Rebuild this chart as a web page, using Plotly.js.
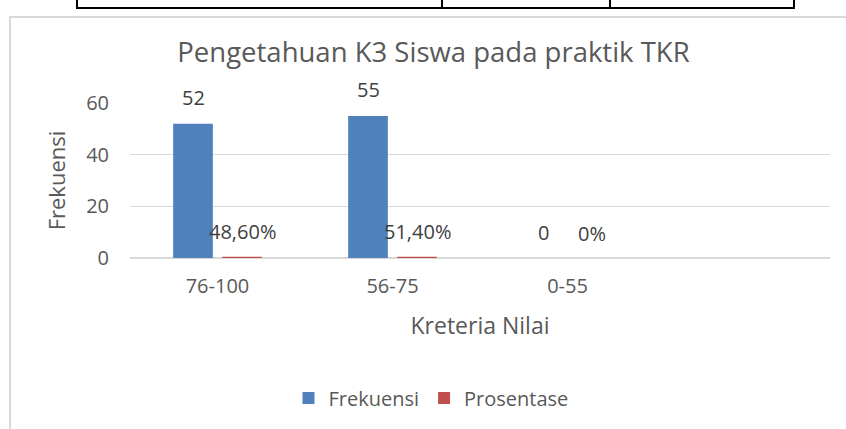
<!DOCTYPE html>
<html>
<head>
<meta charset="utf-8">
<script src="https://cdn.plot.ly/plotly-3.0.1.min.js"></script>
<style>
  html, body { margin: 0; padding: 0; background: #ffffff; }
  #wrap { position: relative; width: 846px; height: 429px; overflow: hidden; }
  #chart { position: absolute; left: 0; top: 0; width: 846px; height: 429px; }
  .ln { position: absolute; pointer-events: none; }
</style>
</head>
<body>
<div id="wrap">
  <div id="chart"></div>
  <!-- table border remnants at top of page -->
  <div class="ln" style="left:76px; top:7px; width:719px; height:2px; background:#000;"></div>
  <div class="ln" style="left:76px; top:0px; width:2px; height:9px; background:#000;"></div>
  <div class="ln" style="left:441px; top:0px; width:2px; height:9px; background:#000;"></div>
  <div class="ln" style="left:609px; top:0px; width:2px; height:9px; background:#000;"></div>
  <div class="ln" style="left:793px; top:0px; width:2px; height:9px; background:#000;"></div>
  <!-- chart frame -->
  <div class="ln" style="left:9px; top:16px; width:837px; height:2px; background:#d9d9d9;"></div>
  <div class="ln" style="left:9px; top:16px; width:2px; height:413px; background:#d9d9d9;"></div>
</div>
<script>
// ---- data ----
const categories = ["76-100", "56-75", "0-55"];
const frekuensi = [52, 55, 0];
const prosentase = [0.486, 0.514, 0];          // fraction values
const frekuensiLabels = ["52", "55", "0"];
const prosentaseLabels = ["48,60%", "51,40%", "0%"];
const yTicks = [0, 20, 40, 60];

const titleText = "Pengetahuan K3 Siswa pada praktik TKR";
const xTitle = "Kreteria Nilai";
const yTitle = "Frekuensi";

const FONT = "Open Sans, Noto Sans, sans-serif";
const TXT = "#595959";
const BLUE = "#4f81bd";
const RED = "#c0504d";

const traces = [
  {
    type: "bar", name: "Frekuensi", x: categories, y: frekuensi,
    marker: { color: BLUE, line: { width: 0 } },
    hoverinfo: "none"
  },
  {
    type: "bar", name: "Prosentase", x: categories, y: prosentase,
    marker: { color: RED, line: { width: 0 } },
    hoverinfo: "none"
  }
];

const annotations = [];
categories.forEach((c, i) => {
  annotations.push({
    x: c, y: frekuensi[i], xref: "x", yref: "y",
    text: frekuensiLabels[i], showarrow: false,
    xshift: -24.5, yshift: 26, yanchor: "middle",
    font: { family: FONT, size: 20, color: "#404040" }
  });
  annotations.push({
    x: c, y: prosentase[i], xref: "x", yref: "y",
    text: prosentaseLabels[i], showarrow: false,
    xshift: 24.5, yshift: 25, yanchor: "middle",
    font: { family: FONT, size: 20, color: "#404040" }
  });
});

const layout = {
  width: 846, height: 429,
  margin: { l: 130, r: 16, t: 103, b: 171, pad: 0 },
  paper_bgcolor: "rgba(0,0,0,0)",
  plot_bgcolor: "rgba(0,0,0,0)",
  font: { family: FONT, color: TXT, size: 20 },
  title: {
    text: titleText,
    font: { family: FONT, size: 27.5, color: TXT },
    xref: "container", x: 433.5 / 846, xanchor: "center",
    yref: "container", y: 1 - 52 / 429, yanchor: "middle"
  },
  barmode: "group",
  bargap: 0.44,
  bargroupgap: 0.19,
  xaxis: {
    type: "category",
    categoryorder: "array", categoryarray: categories,
    range: [-0.5, 3.5],
    showgrid: false, zeroline: false, showline: false,
    ticks: "", ticklabelstandoff: 14,
    tickfont: { family: FONT, size: 20, color: TXT },
    title: { text: xTitle, font: { family: FONT, size: 23, color: TXT }, standoff: 19 }
  },
  yaxis: {
    range: [0, 60],
    tickvals: yTicks,
    ticktext: yTicks.map(String),
    showgrid: true, gridcolor: "#d9d9d9", gridwidth: 1.3,
    zeroline: true, zerolinecolor: "#d9d9d9", zerolinewidth: 1.3,
    showline: false, ticks: "", ticklabelstandoff: 20,
    tickfont: { family: FONT, size: 20, color: TXT },
    title: { text: yTitle, font: { family: FONT, size: 22, color: TXT }, standoff: 14 }
  },
  showlegend: true,
  legend: {
    orientation: "h",
    itemwidth: 30,
    xref: "container", x: 431 / 846, xanchor: "center",
    yref: "container", y: 1 - 398 / 429, yanchor: "middle",
    font: { family: FONT, size: 20, color: TXT },
    itemclick: false, itemdoubleclick: false
  },
  annotations: annotations
};

Plotly.newPlot("chart", traces, layout, { displayModeBar: false, staticPlot: true });
</script>
</body>
</html>
